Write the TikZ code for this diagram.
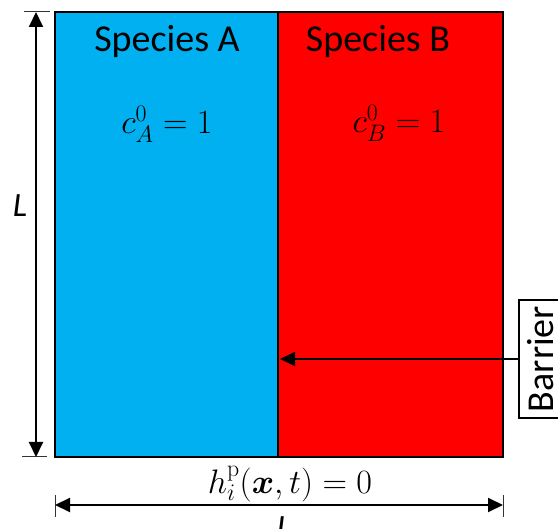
\RequirePackage{fix-cm}
\documentclass[tikz,border=0pt]{standalone}
\usepackage[no-math]{fontspec}
\setmainfont{Carlito}
\usepackage{amsmath,bm}
\usetikzlibrary{arrows.meta,positioning}
\definecolor{azzurro}{RGB}{0,176,240}
\definecolor{rosso}{RGB}{255,0,0}

\begin{document}
\begin{tikzpicture}[
			x=1pt, y=-1pt,
			>={Triangle[length=15pt,width=14pt]},
			regione/.style={draw=black, line width=2.4pt, inner sep=0pt,
				outer sep=0pt, minimum height=445pt, anchor=north west},
			quota/.style={<->, line width=2pt, black},
			tacca/.style={line width=1pt, black!80},
			testo/.style={font=\fontsize{38}{40}\selectfont, inner sep=0pt},
			formula/.style={font=\fontsize{34}{36}\selectfont, inner sep=0pt},
			lato/.style={font=\fontsize{34}{36}\selectfont\itshape, inner sep=0pt}]
			
			\useasboundingbox (0,0) rectangle (558,529);
			
			\def\xL{55}
			\def\yT{12}
			\def\dq{19}
			
			%% le due zone
			\node[regione, fill=azzurro, minimum width=223pt] (zonaA) at (\xL,\yT) {};
			\node[regione, fill=rosso, minimum width=225pt] (zonaB) at (zonaA.north east) {};
			
			%% scritte nelle zone
			\node[testo] (specieA) at (167,41) {Species A};
			\node[testo] (specieB) at (378,41) {Species B};
			\node[formula] (concA) at (167,124) {$c_A^0 = 1$};
			\node[formula] (concB) at (399,123) {$c_B^0 = 1$};
			
			%% quota verticale
			\draw[tacca] ([xshift=-31pt]zonaA.north west) -- ([xshift=-5pt]zonaA.north west);
			\draw[tacca] ([xshift=-33pt]zonaA.south west) -- ([xshift=-8pt]zonaA.south west);
			\draw[quota] ([xshift=-\dq pt]zonaA.north west) -- ([xshift=-\dq pt]zonaA.south west);
			\node[lato] (latoV) at (20,206) {L};
			
			%% quota orizzontale (yshift va verso l'alto)
			\coordinate (qS) at ([yshift=-48pt]zonaA.south west);
			\coordinate (qD) at ([yshift=-48pt]zonaB.south east);
			\draw[tacca] ([yshift=10pt]qS) -- ([yshift=-12pt]qS);
			\draw[tacca] ([yshift=10pt]qD) -- ([yshift=-12pt]qD);
			\draw[quota] (qS) -- (qD);
			\node[lato, anchor=north] (latoO) at (284,516) {L};
			\node[formula] (bordo) at (290,484) {$h_i^{\mathrm{p}}(\bm{x},t) = 0$};
			
			%% barriera
			\node[draw, line width=1.6pt, rotate=90, testo, minimum width=118pt,
				minimum height=44pt, fill=white] (barriera) at (541,359) {Barrier};
			\coordinate (setto) at ([xshift=2pt]barriera.north -| zonaA.east);
			\draw[->, line width=1.8pt] (barriera.north) -- (setto);
			
		\end{tikzpicture}
\end{document}
